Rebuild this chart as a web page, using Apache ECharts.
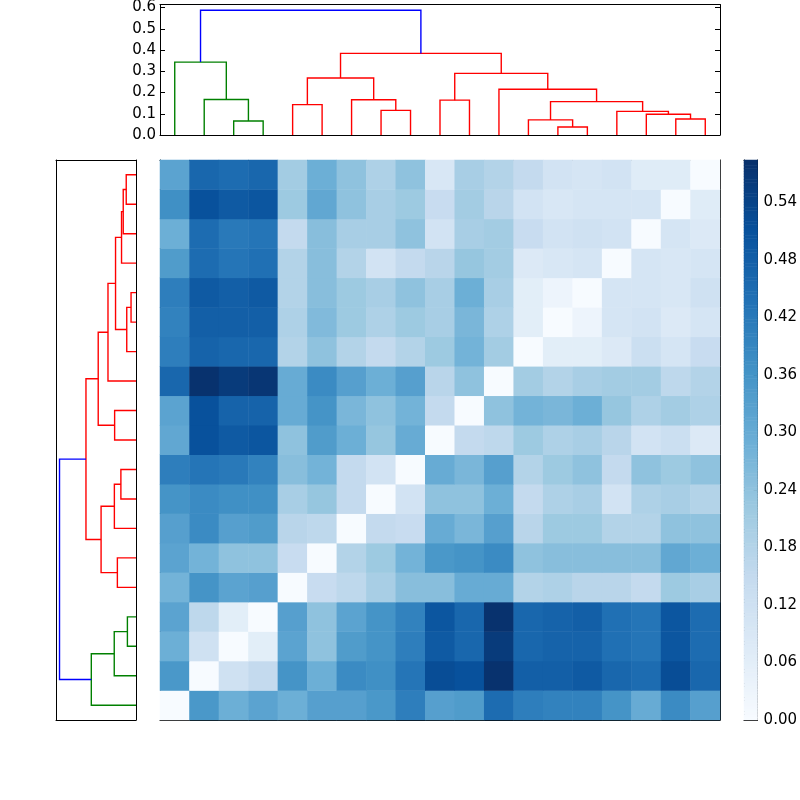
<!DOCTYPE html>
<html>
<head>
<meta charset="utf-8">
<script src="https://cdn.jsdelivr.net/npm/echarts@6/dist/echarts.min.js"></script>
<style>
  html, body { margin: 0; padding: 0; background: #fff; }
  #chart { width: 800px; height: 800px; }
</style>
</head>
<body>
<div id="chart"></div>
<script>
// linkage: [childA, childB, height], leaves 0..18, clusters numbered from 19
const linkage = [
    [2, 3, 0.066], [1, 19, 0.167], [0, 20, 0.343],
    [4, 5, 0.143], [7, 8, 0.116], [6, 23, 0.166], [22, 24, 0.268],
    [9, 10, 0.164], [13, 14, 0.038], [12, 27, 0.071], [17, 18, 0.075],
    [16, 29, 0.098], [15, 30, 0.111], [28, 31, 0.157], [11, 32, 0.215],
    [26, 33, 0.29], [25, 34, 0.384], [21, 35, 0.587]
];
const linkColors = [
    'g', 'g', 'g',
    'r', 'r', 'r', 'r', 'r', 'r', 'r', 'r', 'r', 'r', 'r', 'r', 'r', 'r',
    'b'
];

// distance matrix rows, index = leaf
const distRows = [
    [0, 0.35, 0.29, 0.32, 0.29, 0.33, 0.33, 0.35, 0.41, 0.33, 0.34, 0.45, 0.41, 0.40, 0.40, 0.36, 0.30, 0.38, 0.33],
    [0.35, 0, 0.12, 0.15, 0.36, 0.29, 0.38, 0.37, 0.43, 0.52, 0.51, 0.58, 0.48, 0.48, 0.49, 0.46, 0.45, 0.52, 0.46],
    [0.29, 0.12, 0, 0.06, 0.32, 0.24, 0.34, 0.36, 0.41, 0.49, 0.46, 0.56, 0.46, 0.47, 0.47, 0.44, 0.43, 0.50, 0.45],
    [0.32, 0.16, 0.06, 0, 0.33, 0.24, 0.32, 0.36, 0.40, 0.50, 0.46, 0.58, 0.46, 0.47, 0.48, 0.44, 0.43, 0.50, 0.45],
    [0.28, 0.36, 0.32, 0.33, 0, 0.14, 0.16, 0.20, 0.25, 0.25, 0.30, 0.30, 0.18, 0.19, 0.17, 0.17, 0.15, 0.22, 0.20],
    [0.32, 0.28, 0.24, 0.24, 0.14, 0, 0.18, 0.22, 0.28, 0.35, 0.36, 0.38, 0.24, 0.25, 0.25, 0.25, 0.25, 0.31, 0.29],
    [0.33, 0.38, 0.33, 0.34, 0.17, 0.16, 0, 0.15, 0.14, 0.30, 0.27, 0.33, 0.17, 0.22, 0.22, 0.18, 0.18, 0.24, 0.24],
    [0.36, 0.38, 0.37, 0.37, 0.20, 0.23, 0.15, 0, 0.11, 0.24, 0.24, 0.29, 0.15, 0.19, 0.20, 0.11, 0.19, 0.20, 0.18],
    [0.41, 0.43, 0.42, 0.40, 0.25, 0.28, 0.15, 0.11, 0, 0.30, 0.27, 0.33, 0.18, 0.22, 0.24, 0.15, 0.24, 0.22, 0.24],
    [0.31, 0.51, 0.49, 0.50, 0.24, 0.34, 0.29, 0.23, 0.30, 0, 0.15, 0.16, 0.22, 0.19, 0.20, 0.17, 0.11, 0.13, 0.08],
    [0.32, 0.51, 0.47, 0.47, 0.30, 0.36, 0.27, 0.24, 0.28, 0.15, 0, 0.24, 0.28, 0.27, 0.29, 0.23, 0.19, 0.21, 0.19],
    [0.46, 0.58, 0.56, 0.57, 0.30, 0.38, 0.33, 0.29, 0.33, 0.17, 0.24, 0, 0.21, 0.18, 0.20, 0.21, 0.21, 0.16, 0.18],
    [0.41, 0.47, 0.46, 0.46, 0.18, 0.24, 0.18, 0.15, 0.18, 0.22, 0.28, 0.21, 0, 0.06, 0.06, 0.08, 0.13, 0.10, 0.14],
    [0.40, 0.48, 0.48, 0.48, 0.19, 0.26, 0.22, 0.19, 0.22, 0.20, 0.27, 0.19, 0.06, 0, 0.03, 0.10, 0.11, 0.08, 0.10],
    [0.41, 0.49, 0.48, 0.49, 0.18, 0.25, 0.22, 0.20, 0.24, 0.20, 0.29, 0.20, 0.06, 0.03, 0, 0.10, 0.10, 0.09, 0.12],
    [0.34, 0.45, 0.43, 0.44, 0.18, 0.25, 0.18, 0.11, 0.15, 0.17, 0.23, 0.21, 0.08, 0.09, 0.10, 0, 0.10, 0.09, 0.10],
    [0.29, 0.45, 0.42, 0.43, 0.15, 0.25, 0.20, 0.20, 0.24, 0.11, 0.20, 0.21, 0.14, 0.11, 0.12, 0.11, 0, 0.10, 0.08],
    [0.37, 0.51, 0.49, 0.50, 0.22, 0.31, 0.24, 0.20, 0.22, 0.14, 0.21, 0.17, 0.11, 0.09, 0.10, 0.10, 0.10, 0, 0.07],
    [0.32, 0.46, 0.45, 0.46, 0.21, 0.29, 0.24, 0.19, 0.24, 0.09, 0.20, 0.18, 0.15, 0.11, 0.10, 0.11, 0.07, 0.07, 0]
];

const nLeaves = distRows.length;
const vmax = 0.584;
const dMax = 0.614;
const colorMap = { g: '#008000', r: '#ff0000', b: '#0000ff' };
const blues = ['#f7fbff', '#deebf7', '#c6dbef', '#9ecae1', '#6baed6', '#4292c6', '#2171b5', '#08519c', '#08306b'];
const font = 'DejaVu Sans';

// scipy-style coordinates: leaf i at 5 + 10 i
const pos = [];
const hgt = [];
for (let i = 0; i < nLeaves; i++) { pos.push(5 + 10 * i); hgt.push(0); }
linkage.forEach(([a, b, h]) => { pos.push((pos[a] + pos[b]) / 2); hgt.push(h); });

function linkPath(k, flip) {
    const [a, b, h] = linkage[k];
    const pts = [[pos[a], hgt[a]], [pos[a], h], [pos[b], h], [pos[b], hgt[b]]];
    return flip ? pts.map(p => [p[1], p[0]]) : pts;
}

const frameLine = { show: true, onZero: false, lineStyle: { color: '#000', width: 1 } };
const noAxis = { axisLabel: { show: false }, axisTick: { show: false }, splitLine: { show: false }, axisLine: frameLine };

const grids = [
    { left: 160, top: 0, width: 560, height: 135 },   // top dendrogram
    { left: 56, top: 160, width: 80, height: 560 },   // left dendrogram
    { left: 160, top: 160, width: 560, height: 560 }, // heatmap
    { left: 744, top: 160, width: 16, height: 560 }   // colorbar
];

const leafCats = distRows.map((_, i) => String(i));
const levels = [];
for (let i = 0; i < 200; i++) levels.push(((i + 0.5) / 200) * vmax);

const xAxes = [
    { gridIndex: 0, type: 'value', min: 0, max: 190, ...noAxis },
    { gridIndex: 0, type: 'value', min: 0, max: 190, position: 'top', ...noAxis },
    { gridIndex: 1, type: 'value', min: 0, max: dMax, inverse: true, ...noAxis },
    { gridIndex: 1, type: 'value', min: 0, max: dMax, position: 'top', ...noAxis },
    { gridIndex: 2, type: 'category', data: leafCats, ...noAxis },
    { gridIndex: 2, type: 'category', data: leafCats, position: 'top', ...noAxis },
    { gridIndex: 3, type: 'category', data: ['cb'], ...noAxis },
    { gridIndex: 3, type: 'category', data: ['cb'], position: 'top', ...noAxis }
];

const tickStyle = { show: true, inside: true, length: 5, lineStyle: { color: '#000' } };
const yAxes = [
    { gridIndex: 0, type: 'value', min: 0, max: dMax, interval: 0.1, axisLine: frameLine, splitLine: { show: false },
      axisTick: tickStyle,
      axisLabel: { showMaxLabel: false, color: '#000', fontFamily: font, fontSize: 15, margin: 4,
                   formatter: v => v.toFixed(1) } },
    { gridIndex: 0, type: 'value', min: 0, max: dMax, interval: 0.1, position: 'right', axisLine: frameLine,
      splitLine: { show: false }, axisTick: tickStyle, axisLabel: { show: false } },
    { gridIndex: 1, type: 'value', min: 0, max: 190, ...noAxis },
    { gridIndex: 1, type: 'value', min: 0, max: 190, position: 'right', ...noAxis },
    { gridIndex: 2, type: 'category', data: leafCats, ...noAxis },
    { gridIndex: 2, type: 'category', data: leafCats, position: 'right', ...noAxis },
    { gridIndex: 3, type: 'category', data: levels.map(String), ...noAxis },
    { gridIndex: 3, type: 'value', min: 0, max: vmax, interval: 0.06, position: 'right', axisLine: frameLine,
      splitLine: { show: false }, axisTick: { show: true, inside: true, length: 4, lineStyle: { color: '#000' } },
      axisLabel: { showMaxLabel: false, color: '#000', fontFamily: font, fontSize: 15, margin: 6,
                   formatter: v => v.toFixed(2) } }
];

// dendrogram links as polylines on the cartesian axes
const topLinks = linkage.map((_, k) => ({
    coords: linkPath(k, false), lineStyle: { color: colorMap[linkColors[k]] }
}));
const leftLinks = linkage.map((_, k) => ({
    coords: linkPath(k, true), lineStyle: { color: colorMap[linkColors[k]] }
}));

const series = [
    { type: 'lines', coordinateSystem: 'cartesian2d', xAxisIndex: 0, yAxisIndex: 0, polyline: true,
      silent: true, lineStyle: { width: 1.4, opacity: 1 }, data: topLinks },
    { type: 'lines', coordinateSystem: 'cartesian2d', xAxisIndex: 2, yAxisIndex: 2, polyline: true,
      silent: true, lineStyle: { width: 1.4, opacity: 1 }, data: leftLinks }
];

const heatData = [];
distRows.forEach((row, i) => row.forEach((v, j) => heatData.push([j, i, v])));
const heatIdx = series.length;
series.push({ type: 'heatmap', xAxisIndex: 4, yAxisIndex: 4, data: heatData, silent: true });
const cbIdx = series.length;
series.push({ type: 'heatmap', xAxisIndex: 6, yAxisIndex: 6, data: levels.map((v, i) => [0, i, v]), silent: true });

const chart = echarts.init(document.getElementById('chart'), null, { renderer: 'canvas' });
chart.setOption({
    animation: false,
    backgroundColor: '#fff',
    grid: grids,
    xAxis: xAxes,
    yAxis: yAxes,
    visualMap: {
        show: false, type: 'continuous', min: 0, max: vmax,
        seriesIndex: [heatIdx, cbIdx], inRange: { color: blues }
    },
    series
});
</script>
</body>
</html>
